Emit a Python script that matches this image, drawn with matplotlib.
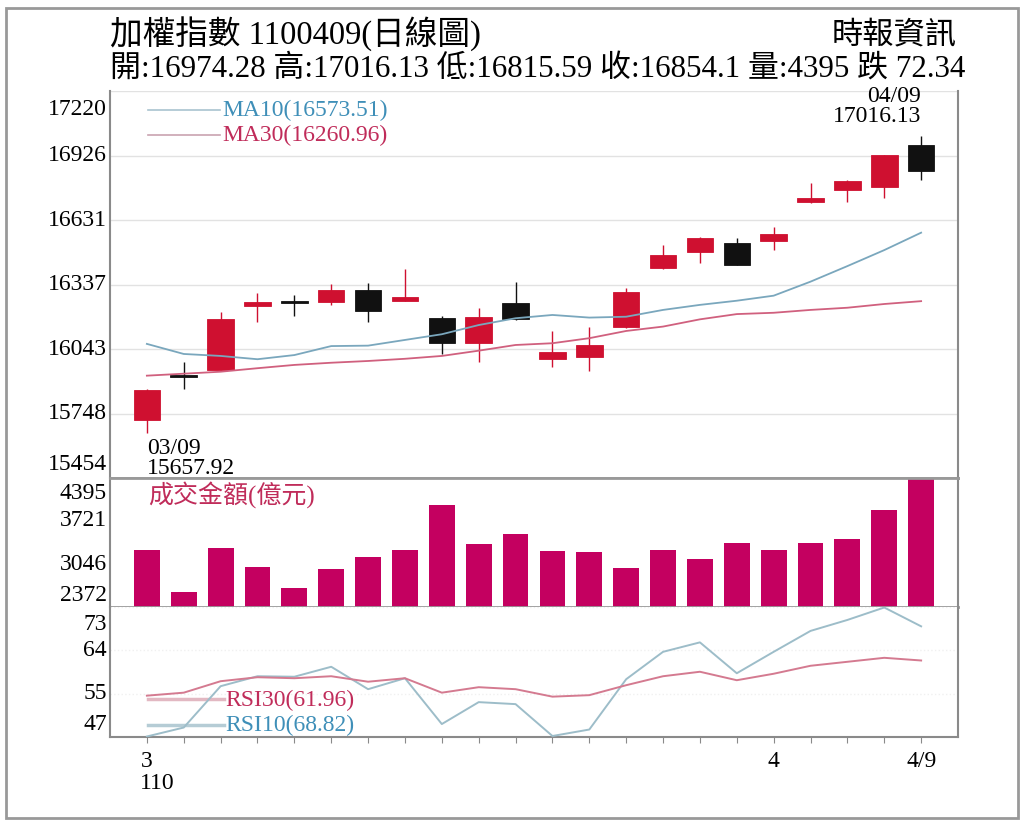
import numpy as np
import matplotlib
matplotlib.use("Agg")
import matplotlib.pyplot as plt
from matplotlib.patches import Rectangle

plt.rcParams['font.family'] = ['Liberation Serif', 'Noto Sans CJK TC']

# trading days 3/9 - 4/9 (ROC year 110)
dates = ["03/09", "03/10", "03/11", "03/12", "03/15", "03/16", "03/17", "03/18",
         "03/19", "03/22", "03/23", "03/24", "03/25", "03/26", "03/29", "03/30",
         "03/31", "04/01", "04/06", "04/07", "04/08", "04/09"]

opens = [15719, 15925, 15947, 16240, 16256, 16256, 16312, 16263, 16186, 16069, 16251,
         15996, 16008, 16142, 16411, 16487, 16525, 16537, 16712, 16768, 16784, 16974.28]
highs = [15858, 15985, 16213, 16297, 16289, 16338, 16345, 16406, 16192, 16229, 16349,
         16126, 16145, 16320, 16517, 16552, 16548, 16601, 16802, 16812, 16926.44, 17016.13]
lows = [15657.92, 15860, 15945, 16167, 16193, 16243, 16167, 16262, 16020, 15985, 16175,
        15962, 15944, 16140, 16409, 16437, 16424, 16494, 16710, 16715, 16730, 16815.59]
closes = [15856, 15915, 16178, 16257, 16252, 16312, 16216, 16281, 16069, 16188, 16178,
          16030, 16061, 16301, 16472, 16548, 16426, 16567, 16733, 16809, 16926.44, 16854.1]

ma10 = [16066, 16020, 16011, 15996, 16015, 16056, 16058, 16084, 16110, 16152, 16183,
        16198, 16186, 16190, 16221, 16244, 16263, 16286, 16350, 16421, 16494, 16573.51]
ma30 = [15921, 15930, 15939, 15955, 15970, 15980, 15988, 15998, 16011, 16035, 16061,
        16069, 16092, 16125, 16145, 16178, 16202, 16208, 16221, 16231, 16248, 16260.96]

volume = [3266, 2612, 3292, 3004, 2665, 2963, 3156, 3266, 3967, 3354, 3521,
          3250, 3234, 2988, 3266, 3129, 3379, 3261, 3379, 3443, 3893, 4395]

rsi10 = [46.7, 48.5, 56.8, 58.8, 58.7, 60.7, 56.2, 58.4, 49.2, 53.6, 53.2,
         46.8, 48.1, 58.2, 63.7, 65.6, 59.4, 63.7, 67.9, 70.1, 72.6, 68.82]
rsi30 = [54.9, 55.5, 57.8, 58.6, 58.4, 58.8, 57.7, 58.4, 55.5, 56.6, 56.2,
         54.7, 55.0, 57.0, 58.8, 59.7, 58.0, 59.3, 60.9, 61.7, 62.5, 61.96]

price_lo, price_hi = 15454, 17220
vol_lo, vol_hi = 2372, 4395
rsi_lo, rsi_hi = 46.6, 72.7

RED = '#cf1030'
BLACK = '#111111'
MAG = '#c40060'
MA10_C = '#7aa7bd'
MA30_C = '#d0607e'
TXT_BLUE = '#3f8fb8'
TXT_RED = '#c02c5a'
GRID = '#e2e2e2'
FRAME = '#8a8a8a'

x = np.arange(len(dates))

fig = plt.figure(figsize=(10.24, 8.26), dpi=100)
L, W = 110 / 1024, 848 / 1024
ax1 = fig.add_axes([L, 1 - 478 / 826, W, 387 / 826])
ax2 = fig.add_axes([L, 1 - 607 / 826, W, 129 / 826])
ax3 = fig.add_axes([L, 1 - 737 / 826, W, 130 / 826])

for ax in (ax1, ax2, ax3):
    ax.set_xlim(-1, 22)
    ax.set_xticks([])
    ax.tick_params(axis='y', length=0, labelleft=False)
    for s in ('left', 'right'):
        ax.spines[s].set_color(FRAME)
        ax.spines[s].set_linewidth(1.5)


def ylabels(ax, ticks, texts, top_shift=-7, bottom_shift=1):
    tr = ax.get_yaxis_transform()
    for i, (t, s) in enumerate(zip(ticks, texts)):
        va, dy = 'center', 0
        if i == 0:
            va, dy = 'bottom', bottom_shift
        elif i == len(ticks) - 1:
            va, dy = 'top', top_shift
        ax.annotate(s, xy=(0, t), xycoords=tr, xytext=(-3, dy),
                    textcoords='offset pixels', ha='right', va=va, fontsize=17)


# ---- price panel
ax1.set_ylim(price_lo, price_hi)
pt = np.linspace(price_lo, price_hi, 7)
for t in pt[1:]:
    ax1.axhline(t, color=GRID, lw=1, zorder=0)
ylabels(ax1, pt, [f"{t:.0f}" for t in pt], top_shift=-8, bottom_shift=3)
ax1.spines['top'].set_visible(False)
ax1.spines['bottom'].set_color('#999999')
ax1.spines['bottom'].set_linewidth(2)

for i in x:
    o, h, l, c = opens[i], highs[i], lows[i], closes[i]
    col = RED if c >= o else BLACK
    ax1.vlines(i, l, h, color=col, lw=1, zorder=2)
    body = max(abs(c - o), 8)
    ax1.bar(i, body, bottom=min(o, c), width=0.72, color=col, edgecolor=col,
            lw=0.6, zorder=3)

ax1.plot(x, ma10, color=MA10_C, lw=1.3, zorder=4)
ax1.plot(x, ma30, color=MA30_C, lw=1.3, zorder=4)

ax1.plot([0.045, 0.13], [0.951, 0.951], transform=ax1.transAxes, color='#a9c3cf', lw=1.2)
ax1.plot([0.045, 0.13], [0.886, 0.886], transform=ax1.transAxes, color='#c9a3b0', lw=1.2)
ax1.text(0.132, 0.951, f"MA10({ma10[-1]:.2f})", transform=ax1.transAxes,
         color=TXT_BLUE, fontsize=17, va='center')
ax1.text(0.132, 0.886, f"MA30({ma30[-1]:.2f})", transform=ax1.transAxes,
         color=TXT_RED, fontsize=17, va='center')

lo_i = int(np.argmin(lows))
hi_i = int(np.argmax(highs))
ax1.annotate(f"{dates[lo_i]}\n{lows[lo_i]:.2f}", xy=(lo_i, lows[lo_i]),
             xytext=(0, -5), textcoords='offset pixels', ha='left', va='top',
             fontsize=17, linespacing=0.9)
ax1.annotate(f"{dates[hi_i]}\n{highs[hi_i]:.2f}", xy=(hi_i, highs[hi_i]),
             xytext=(0, 9), textcoords='offset pixels', ha='right', va='bottom',
             fontsize=17, linespacing=0.9, multialignment='right')

# ---- volume panel
ax2.set_ylim(vol_lo, vol_hi)
vt = np.linspace(vol_lo, vol_hi, 4)
ylabels(ax2, vt, [f"{t:.0f}" for t in vt], top_shift=-5, bottom_shift=1)
ax2.bar(x, volume, width=0.7, color=MAG, zorder=2)
for s in ('top', 'bottom'):
    ax2.spines[s].set_color('#999999')
    ax2.spines[s].set_linewidth(2)
ax2.text(0.045, 0.87, "成交金額(億元)", transform=ax2.transAxes, color=TXT_RED,
         fontsize=18, va='center')

# ---- RSI panel
ax3.set_ylim(rsi_lo, rsi_hi)
rt = np.linspace(rsi_lo, rsi_hi, 4)
for t in rt[1:]:
    ax3.axhline(t, color='#f0f0f0', lw=1, ls=':', zorder=0)
ylabels(ax3, rt, [f"{t:.0f}" for t in rt], top_shift=-7, bottom_shift=2)
ax3.spines['top'].set_visible(False)
ax3.spines['bottom'].set_color(FRAME)
ax3.spines['bottom'].set_linewidth(1.5)
ax3.plot(x, rsi10, color='#9dbdc9', lw=1.4, zorder=3)
ax3.plot(x, rsi30, color='#d47a90', lw=1.4, zorder=3)

ax3.plot([0.045, 0.135], [0.292, 0.292], transform=ax3.transAxes, color='#e2b8c2', lw=2.5)
ax3.plot([0.045, 0.135], [0.092, 0.092], transform=ax3.transAxes, color='#b5ccd5', lw=2.5)
ax3.text(0.136, 0.28, f"RSI30({rsi30[-1]:.2f})", transform=ax3.transAxes,
         color=TXT_RED, fontsize=17, va='center')
ax3.text(0.136, 0.09, f"RSI10({rsi10[-1]:.2f})", transform=ax3.transAxes,
         color=TXT_BLUE, fontsize=17, va='center')

xl = ['' for _ in dates]
xl[0] = "3"
xl[dates.index("04/01")] = "4"
xl[-1] = "4/9"
ax3.set_xticks(x, labels=xl)
ax3.tick_params(axis='x', length=4, color=FRAME, pad=6, labelsize=17)
ax3.text(-0.2, -0.36, "110", transform=ax3.get_xaxis_transform(), ha='left',
         va='center', fontsize=17)

# ---- header
fig.text(110 / 1024, 1 - 34 / 826, "加權指數 1100409(日線圖)", fontsize=23.5, va='center')
fig.text(957 / 1024, 1 - 36 / 826, "時報資訊", fontsize=22.5, va='center', ha='right')
hdr = (f"開:{opens[-1]:.2f} 高:{highs[-1]:.2f} 低:{lows[-1]:.2f} "
       f"收:{closes[-1]:.1f} 量:{volume[-1]} 跌 {closes[-2] - closes[-1]:.2f}")
fig.text(110 / 1024, 1 - 69 / 826, hdr, fontsize=22.3, va='center')

fig.patches.append(Rectangle((6 / 1024, 8 / 826), 1012 / 1024, 810 / 826,
                             transform=fig.transFigure, fill=False,
                             edgecolor='#999999', lw=2))

fig.savefig("out.png", dpi=100)
